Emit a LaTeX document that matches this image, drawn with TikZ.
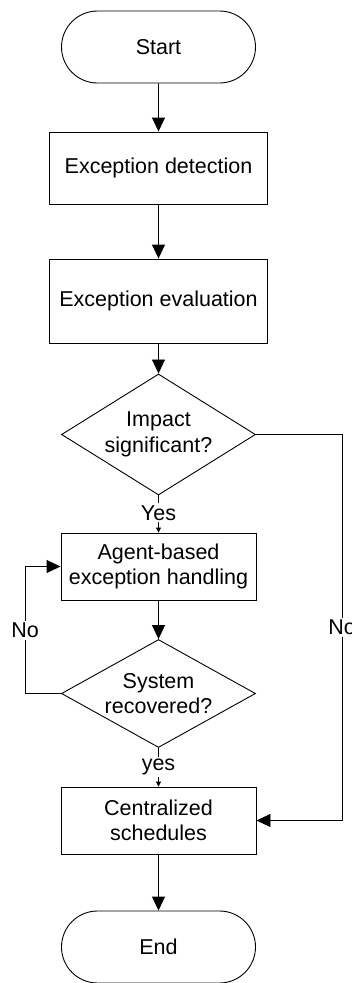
\documentclass[tikz,border=0pt]{standalone}
\usepackage{fontspec}
\setmainfont{Liberation Sans}
\usetikzlibrary{shapes.geometric,shapes.misc,arrows.meta}
\begin{document}
\begin{tikzpicture}[x=1pt,y=-1pt,
  every node/.style={font=\fontsize{21.5}{25.5}\selectfont, align=center, inner sep=0pt},
  term/.style={draw, rounded rectangle, minimum width=194pt, minimum height=72pt, line width=0.9pt},
  procbox/.style={draw, rectangle, minimum width=#1, line width=0.9pt},
  decis/.style={draw, diamond, aspect=1.6, minimum width=194pt, minimum height=#1, line width=0.9pt},
  lab/.style={fill=white, inner sep=2pt},
  conn/.style={line width=0.9pt},
  bigarrow/.style={conn, -{Triangle[length=14pt,width=13pt]}},
  smallarrow/.style={conn, -{Triangle[length=5pt,width=5pt]}}
]
\useasboundingbox (0,0) rectangle (352,983);
\node[term] (start) at (158.5,47) {Start};
\node[procbox=218pt, minimum height=72pt] (det) at (158.5,168) {Exception detection};
\node[procbox=218pt, minimum height=84pt] (eval) at (158.5,301) {Exception evaluation};
\node[decis=121pt] (imp) at (158.5,434.5) {Impact\\significant?};
\node[procbox=195pt, minimum height=67pt] (agent) at (158.5,566.5) {Agent-based\\exception handling};
\node[decis=107pt] (sys) at (158.5,693.5) {System\\recovered?};
\node[procbox=195pt, minimum height=67pt] (cent) at (158.5,820.5) {Centralized\\schedules};
\node[term] (end) at (158.5,947) {End};

\coordinate (r1) at (342,434.5);
\coordinate (r2) at (342,820.5);
\coordinate (l1) at (25,693.5);
\coordinate (l2) at (25,566.5);

\draw[bigarrow] (start) -- (det);
\draw[bigarrow] (det) -- (eval);
\draw[bigarrow] (eval) -- (imp);
\draw[smallarrow] (imp.south) -- node[lab, pos=0.47] {Yes} (agent.north);
\draw[bigarrow] (agent) -- (sys);
\draw[smallarrow] (sys.south) -- node[lab, pos=0.5] {yes} (cent.north);
\draw[bigarrow] (cent) -- (end);
\draw[bigarrow] (imp.east) -- (r1) -- node[lab] {No} (r2) -- (cent.east);
\draw[bigarrow] (sys.west) -- (l1) -- node[lab] {No} (l2) -- (agent.west);
\end{tikzpicture}
\end{document}
